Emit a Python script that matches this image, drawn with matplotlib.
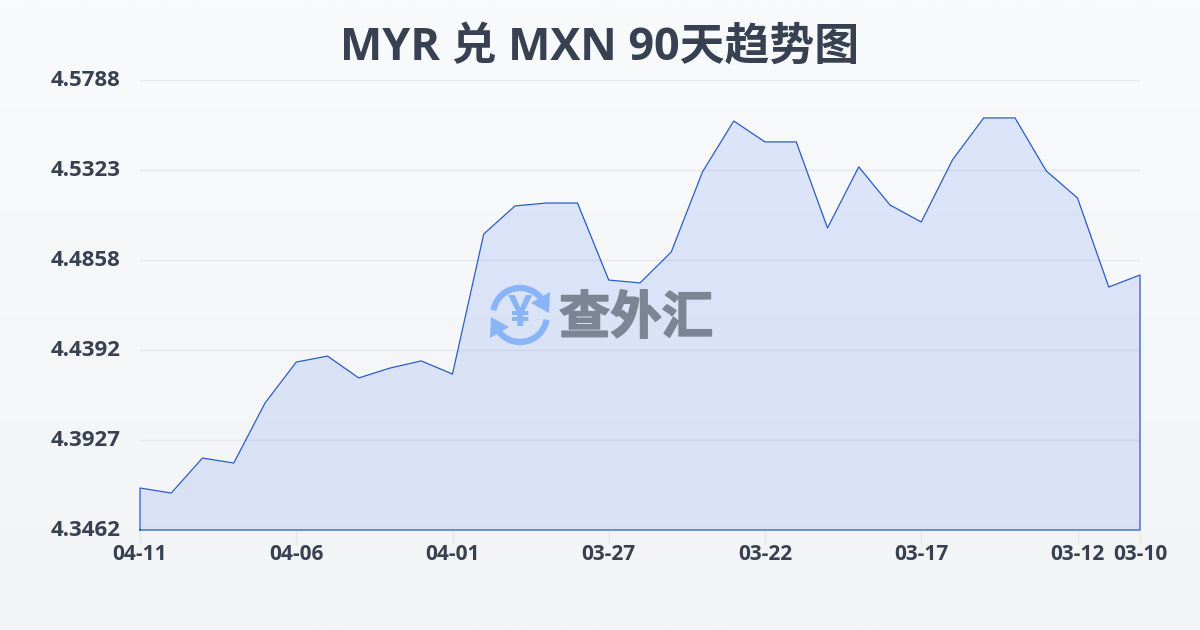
import numpy as np
import matplotlib
matplotlib.use("Agg")
import matplotlib.pyplot as plt
import matplotlib.patheffects as pe
from matplotlib.patches import Arc, Polygon
from matplotlib.transforms import ScaledTranslation

plt.rcParams['font.family'] = ['Open Sans', 'Noto Sans CJK SC', 'DejaVu Sans']

# data, newest date on the left like the source chart
rates = [4.3679, 4.3653, 4.3834, 4.3808, 4.4118, 4.4330, 4.4361, 4.4248, 4.4299,
         4.4336, 4.4268, 4.4992, 4.5137, 4.5152, 4.5152, 4.4754, 4.4739, 4.4899,
         4.5313, 4.5576, 4.5468, 4.5468, 4.5023, 4.5339, 4.5142, 4.5054, 4.5375,
         4.5592, 4.5592, 4.5318, 4.5178, 4.4718, 4.4780]
x_ticks = [0, 5, 10, 15, 20, 25, 30, 32]
x_labels = ['04-11', '04-06', '04-01', '03-27', '03-22', '03-17', '03-12', '03-10']
y_ticks = [4.3462, 4.3927, 4.4392, 4.4858, 4.5323, 4.5788]
y_labels = ['4.3462', '4.3927', '4.4392', '4.4858', '4.5323', '4.5788']
title = 'MYR 兑 MXN 90天趋势图'
logo_text = '查外汇'

text_color = '#374151'
line_color = '#2a5cc4'
logo_blue = '#8ab4f8'

fig = plt.figure(figsize=(12, 6.3), dpi=100)

# background gradient and logo layer, in pixel coords
bg = fig.add_axes([0, 0, 1, 1], zorder=0)
grad = np.linspace(0, 1, 256).reshape(-1, 1)
top = np.array([0xf9, 0xfa, 0xfc]) / 255
bottom = np.array([0xf3, 0xf4, 0xf6]) / 255
bg.imshow(top + (bottom - top) * grad[..., None], extent=[0, 1200, 630, 0], aspect='auto')
bg.set_xlim(0, 1200)
bg.set_ylim(630, 0)
bg.axis('off')

# main chart
ax = fig.add_axes([140 / 1200, 1 - 530 / 630, 1000 / 1200, 450 / 630], zorder=1)
ax.patch.set_alpha(0)
x = np.arange(len(rates))
ax.set_xlim(0, len(rates) - 1)
ax.set_ylim(y_ticks[0], y_ticks[-1])
ax.fill_between(x, rates, y_ticks[0], color='#2563eb', alpha=0.13, lw=0, zorder=2)
ax.plot(np.r_[x[0], x, x[-1], x[0]], np.r_[y_ticks[0], rates, y_ticks[0], y_ticks[0]],
        color=line_color, lw=0.9, zorder=3, clip_on=False)

ax.set_yticks(y_ticks)
ax.set_yticklabels(y_labels, fontsize=16, fontweight='bold', color=text_color)
ax.set_xticks(x_ticks)
ax.set_xticklabels(x_labels, fontsize=15, fontweight='bold', color=text_color)
ax.tick_params(axis='y', length=0, pad=14)
ax.tick_params(axis='x', length=10, width=1, color='#e5e7eb', pad=0)
ax.grid(axis='y', color='#e5e7eb', lw=1, zorder=1)
ax.set_axisbelow(True)
for s in ax.spines.values():
    s.set_visible(False)

# y labels sit 2px above their gridlines
shift = ScaledTranslation(0, 2 / 100, fig.dpi_scale_trans)
for lab in ax.get_yticklabels():
    lab.set_transform(lab.get_transform() + shift)

fig.text(0.5, 1 - 48 / 630, title, ha='center', va='center', fontsize=32.3,
         fontweight='bold', color=text_color)

# watermark on top of the area
logo = fig.add_axes([0, 0, 1, 1], zorder=2)
logo.set_xlim(0, 1200)
logo.set_ylim(630, 0)
logo.axis('off')
cx, cy = 520, 315
logo.add_patch(Arc((cx, cy), 54, 54, theta1=190, theta2=325, color=logo_blue, lw=4.5))
logo.add_patch(Arc((cx, cy), 54, 54, theta1=10, theta2=145, color=logo_blue, lw=4.5))
logo.add_patch(Polygon([[550, 292], [549, 313], [531, 303]], color=logo_blue, lw=0))
logo.add_patch(Polygon([[490, 338], [491, 317], [509, 327]], color=logo_blue, lw=0))
logo.text(cx, cy, '¥', ha='center', va='center', fontsize=31, fontweight='bold', color=logo_blue)
wm = logo.text(636, 318, logo_text, ha='center', va='center', fontsize=37, fontweight='bold',
               color='#7d8595', family=['Noto Sans CJK SC', 'DejaVu Sans'])
wm.set_path_effects([pe.withStroke(linewidth=1.2, foreground='#7d8595')])

fig.savefig('out.png', dpi=100)
